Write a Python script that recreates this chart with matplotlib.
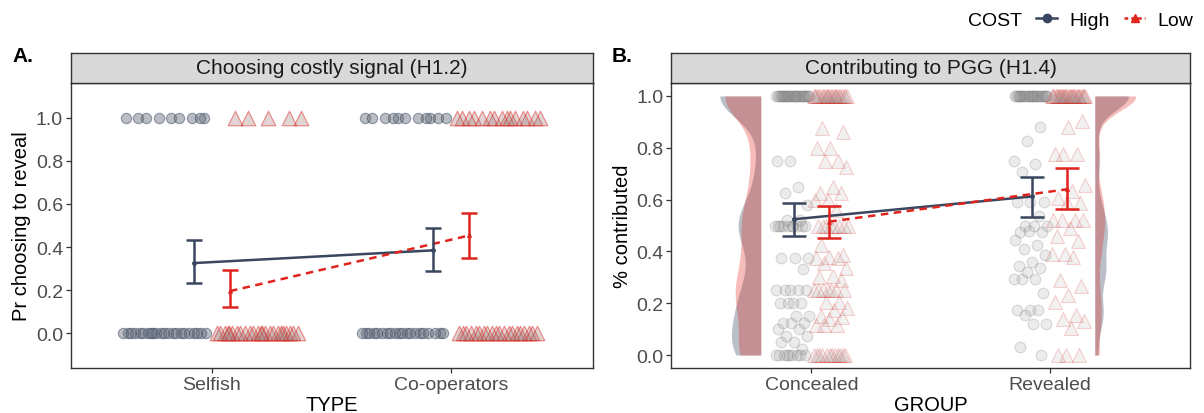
import numpy as np
import matplotlib
matplotlib.use('Agg')
import matplotlib.pyplot as plt
from matplotlib.lines import Line2D

plt.rcParams['font.family'] = ['Liberation Sans', 'DejaVu Sans']

NAVY = '#39465F'
RED = '#E0231C'

# ---------------- Panel A data ----------------
type_labels = ['Selfish', 'Co-operators']
# raw binary choices: counts of 1 (revealed) and 0 per TYPE
a_high_ones = [9, 11]
a_high_zeros = [22, 20]
a_low_ones = [5, 15]
a_low_zeros = [24, 20]
# model estimates (mean and 95% CI)
a_high_mean = [0.326, 0.385]
a_high_lo = [0.233, 0.289]
a_high_hi = [0.433, 0.490]
a_low_mean = [0.196, 0.454]
a_low_lo = [0.122, 0.351]
a_low_hi = [0.295, 0.560]

# ---------------- Panel B data ----------------
group_labels = ['Concealed', 'Revealed']
b_conc_high = ([1.0] * 26 + [0.75, 0.75, 0.65, 0.625, 0.58] + [0.5] * 10 + [0.52, 0.52]
               + [0.375] * 3 + [0.333] + [0.25] * 5 + [0.2] * 4
               + [0.15, 0.15, 0.125, 0.125, 0.125, 0.1, 0.1, 0.075, 0.075,
                  0.05, 0.05, 0.025] + [0.0] * 9)
b_conc_low = ([1.0] * 24 + [0.875, 0.86, 0.8, 0.8, 0.75, 0.75, 0.725, 0.65, 0.625, 0.625,
                            0.6, 0.6, 0.56] + [0.5] * 8
              + [0.425, 0.385, 0.38, 0.375, 0.375, 0.355, 0.335, 0.305, 0.3, 0.29]
              + [0.25] * 7
              + [0.205, 0.205, 0.18, 0.175, 0.15, 0.145, 0.14, 0.115, 0.115, 0.115]
              + [0.0] * 12)
b_rev_high = ([1.0] * 24 + [0.88, 0.825, 0.75, 0.737, 0.708, 0.59, 0.59, 0.59, 0.535, 0.5, 0.5,
                            0.5, 0.475, 0.475, 0.48, 0.445, 0.425, 0.41, 0.385, 0.36, 0.345,
                            0.335, 0.32, 0.295, 0.295, 0.295, 0.238, 0.175, 0.175, 0.175,
                            0.155, 0.12, 0.12, 0.03, 0.0])
b_rev_low = ([1.0] * 30 + [0.905, 0.88, 0.775, 0.775, 0.775, 0.655, 0.635, 0.605, 0.585, 0.585,
                           0.52, 0.52, 0.52, 0.52, 0.49, 0.46, 0.44, 0.39, 0.39, 0.38, 0.29,
                           0.265, 0.23, 0.205, 0.155, 0.14, 0.13, 0.105, 0.0, 0.0, 0.0])
b_high_mean = [0.524, 0.612]
b_high_lo = [0.461, 0.532]
b_high_hi = [0.586, 0.686]
b_low_mean = [0.515, 0.640]
b_low_lo = [0.453, 0.564]
b_low_hi = [0.575, 0.721]


def golden(n, start=0):
    """deterministic low-discrepancy jitter in [-1, 1)"""
    return (((np.arange(n) + start) * 0.6180339887 + 0.37) % 1.0) * 2 - 1


def kde(vals, grid, bw):
    v = np.asarray(vals)
    z = (grid[:, None] - v[None, :]) / bw
    return np.exp(-0.5 * z ** 2).sum(1) / (len(v) * bw * np.sqrt(2 * np.pi))


fig = plt.figure(figsize=(12.04, 4.14), dpi=100)

W, H = 1204, 414
ax_bottom = 1 - 369 / H
ax_h = (369 - 84) / H
strip_h = 30 / H
posA = [70.7 / W, ax_bottom, 522 / W, ax_h]
posB = [671 / W, ax_bottom, 519 / W, ax_h]


def style_axes(ax, pos, title, xlabel, ylabel, xticklabels):
    for s in ax.spines.values():
        s.set_color('#333333')
        s.set_linewidth(1.0)
    ax.set_xlim(0.41, 2.59)
    ax.set_xticks([1, 2])
    ax.set_xticklabels(xticklabels)
    ax.set_yticks([0, 0.2, 0.4, 0.6, 0.8, 1.0])
    ax.set_yticklabels(['0.0', '0.2', '0.4', '0.6', '0.8', '1.0'])
    ax.tick_params(axis='both', labelsize=14, labelcolor='#4D4D4D', color='#333333',
                   length=3.5, width=0.9, pad=2)
    ax.set_xlabel(xlabel, fontsize=14.5, color='black')
    ax.set_ylabel(ylabel, fontsize=14.5, color='black')
    ax.xaxis.set_label_coords(0.5, -0.095)
    ax.yaxis.set_label_coords(-0.076, 0.5)
    sax = fig.add_axes([pos[0], pos[1] + pos[3], pos[2], strip_h])
    sax.set_facecolor('#D9D9D9')
    sax.set_xticks([])
    sax.set_yticks([])
    for s in sax.spines.values():
        s.set_color('#333333')
        s.set_linewidth(1.0)
    sax.text(0.5, 0.5, title, ha='center', va='center', fontsize=15, color='#1A1A1A',
             transform=sax.transAxes)


def draw_summary(ax, xs, mean, lo, hi, color, ls, marker, cap):
    xs = np.asarray(xs)
    mean = np.asarray(mean)
    if ls == 'dashed':
        ax.plot(xs, mean, color=color, lw=1.8, dashes=(3, 2.2), zorder=5)
    else:
        ax.plot(xs, mean, color=color, lw=1.8, zorder=5)
    ax.errorbar(xs, mean, yerr=[mean - np.asarray(lo), np.asarray(hi) - mean], fmt='none',
                ecolor=color, elinewidth=1.8, capsize=cap, capthick=1.8, zorder=6)
    ax.scatter(xs, mean, s=6, color=color, marker=marker, zorder=7)


# ---------------- Panel A ----------------
axA = fig.add_axes(posA)
axA.set_ylim(-0.16, 1.16)
dodge_pts = 0.2
jit_w = 0.18
k = 0
for i in range(2):
    for cnt, yv in ((a_high_zeros[i], 0.0), (a_high_ones[i], 1.0)):
        xj = (i + 1) - dodge_pts + jit_w * golden(cnt, k)
        k += cnt
        axA.scatter(xj, np.full(cnt, yv), s=55, marker='o',
                    facecolors=[(0.40, 0.43, 0.49, 0.45)], edgecolors=[(0.22, 0.27, 0.37, 0.5)],
                    linewidths=0.8, zorder=2)
    for cnt, yv in ((a_low_zeros[i], 0.0), (a_low_ones[i], 1.0)):
        xj = (i + 1) + dodge_pts + jit_w * golden(cnt, k)
        k += cnt
        axA.scatter(xj, np.full(cnt, yv), s=110, marker='^',
                    facecolors=[(0.6, 0.45, 0.45, 0.3)], edgecolors=[(0.88, 0.14, 0.11, 0.5)],
                    linewidths=0.8, zorder=2)
draw_summary(axA, [1 - 0.075, 2 - 0.075], a_high_mean, a_high_lo, a_high_hi, NAVY, 'solid', 'o', 5.5)
draw_summary(axA, [1 + 0.075, 2 + 0.075], a_low_mean, a_low_lo, a_low_hi, RED, 'dashed', '^', 5.5)
style_axes(axA, posA, 'Choosing costly signal (H1.2)', 'TYPE', 'Pr choosing to reveal', type_labels)

# ---------------- Panel B ----------------
axB = fig.add_axes(posB)
axB.set_ylim(-0.05, 1.05)
grid = np.linspace(0, 1, 301)
bw_conc = 0.085
bw_rev = 0.055
dch = kde(b_conc_high, grid, bw_conc)
dcl = kde(b_conc_low, grid, bw_conc)
drh = kde(b_rev_high, grid, bw_rev)
drl = kde(b_rev_low, grid, bw_rev)
cmax = max(dch.max(), dcl.max())
rmax = max(drh.max(), drl.max())
vw = 0.172
GREY_FILL = (0.23, 0.29, 0.39, 0.35)
RED_FILL = (0.88, 0.14, 0.11, 0.30)
cb = 1 - 0.213
rb = 2 + 0.19
axB.fill_betweenx(grid, cb - dch / cmax * vw, cb, color=GREY_FILL, lw=0, zorder=1)
axB.fill_betweenx(grid, cb - dcl / cmax * vw, cb, color=RED_FILL, lw=0, zorder=1)
axB.fill_betweenx(grid, rb, rb + drh / rmax * vw, color=GREY_FILL, lw=0, zorder=1)
axB.fill_betweenx(grid, rb, rb + drl / rmax * vw, color=RED_FILL, lw=0, zorder=1)

pt_off = 0.08
pt_jit = 0.072
k = 0
for i, vals in enumerate((b_conc_high, b_rev_high)):
    xj = (i + 1) - pt_off + pt_jit * golden(len(vals), k)
    k += len(vals)
    axB.scatter(xj, vals, s=60, marker='o', facecolors=[(0.55, 0.55, 0.55, 0.17)],
                edgecolors=[(0.35, 0.35, 0.38, 0.2)], linewidths=0.8, zorder=2)
for i, vals in enumerate((b_conc_low, b_rev_low)):
    xj = (i + 1) + pt_off + pt_jit * golden(len(vals), k)
    k += len(vals)
    axB.scatter(xj, vals, s=100, marker='^', facecolors=[(0.6, 0.6, 0.6, 0.13)],
                edgecolors=[(0.88, 0.14, 0.11, 0.2)], linewidths=0.8, zorder=2)
draw_summary(axB, [1 - 0.075, 2 - 0.075], b_high_mean, b_high_lo, b_high_hi, NAVY, 'solid', 'o', 8.5)
draw_summary(axB, [1 + 0.075, 2 + 0.075], b_low_mean, b_low_lo, b_low_hi, RED, 'dashed', '^', 8.5)
style_axes(axB, posB, 'Contributing to PGG (H1.4)', 'GROUP', '% contributed', group_labels)

# panel letters
fig.text(12 / W, 1 - 57 / H, 'A.', fontsize=15, fontweight='bold', ha='left', va='center')
fig.text(612 / W, 1 - 57 / H, 'B.', fontsize=15, fontweight='bold', ha='left', va='center')

# legend
fig.text(968 / W, 1 - 21 / H, 'COST', fontsize=14, ha='left', va='center')
handles = [Line2D([], [], color=NAVY, lw=1.8, marker='o', markersize=6),
           Line2D([], [], color=RED, lw=1.8, dashes=(1.5, 1.2), marker='^', markersize=6)]
fig.legend(handles, ['High', 'Low'], loc='center left', bbox_to_anchor=(1036 / W, 1 - 21 / H),
           ncol=2, frameon=False, fontsize=14, handlelength=1.1, handletextpad=0.6,
           columnspacing=0.75, borderaxespad=0, borderpad=0)

fig.savefig('out.png', dpi=100)
